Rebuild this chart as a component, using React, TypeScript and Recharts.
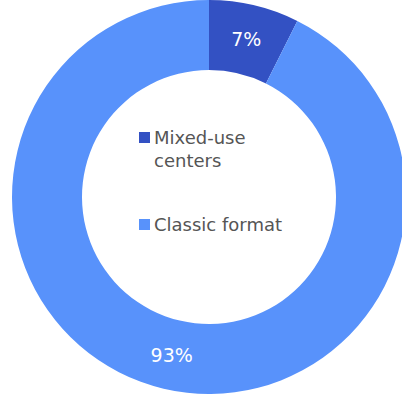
import React from 'react';
import { PieChart, Pie, Cell, Legend } from 'recharts';

const segments = ['Mixed-use centers', 'Classic format'];
const shares = [7.4, 92.6];
const colors = ['#3351C3', '#5892FB'];

const data = segments.map((name, i) => ({ name, value: shares[i] }));

const RAD = Math.PI / 180;

const renderLabel = (props: any) => {
  const { cx, cy, midAngle, innerRadius, outerRadius, percent } = props;
  const r = (innerRadius + outerRadius) / 2;
  const x = cx + r * Math.cos(-midAngle * RAD);
  const y = cy + r * Math.sin(-midAngle * RAD);
  return (
    <text x={x} y={y} fill="#fff" textAnchor="middle" dominantBaseline="central" fontSize={19} fontFamily="DejaVu Sans">
      {`${Math.round(percent * 100)}%`}
    </text>
  );
};

// legend drawn in data order (recharts would sort it otherwise)
const LegendBox = () => (
  <div style={{ fontFamily: 'DejaVu Sans', fontSize: 18, lineHeight: '23px', color: '#555' }}>
    {segments.map((name, i) => (
      <div key={name} style={{ display: 'flex', alignItems: 'flex-start', marginTop: i === 0 ? 0 : 41 }}>
        <span style={{ width: 11, height: 11, background: colors[i], marginTop: 6, marginRight: 4, flexShrink: 0 }} />
        <span style={{ width: 150 }}>{name}</span>
      </div>
    ))}
  </div>
);

export default function App() {
  return (
    <div style={{ position: 'absolute', left: 0, top: 0, width: 402, height: 395, background: '#fff' }}>
      <PieChart width={402} height={395} margin={{ top: 0, right: 0, bottom: 0, left: 0 }}>
        <Pie
          data={data}
          dataKey="value"
          nameKey="name"
          cx={209}
          cy={197}
          innerRadius={127}
          outerRadius={197}
          startAngle={90}
          endAngle={-270}
          stroke="none"
          label={renderLabel}
          labelLine={false}
          isAnimationActive={false}
        >
          {data.map((d, i) => (
            <Cell key={d.name} fill={colors[i]} />
          ))}
        </Pie>
        <Legend content={<LegendBox />} wrapperStyle={{ position: 'absolute', left: 139, top: 126, width: 170 }} />
      </PieChart>
    </div>
  );
}
